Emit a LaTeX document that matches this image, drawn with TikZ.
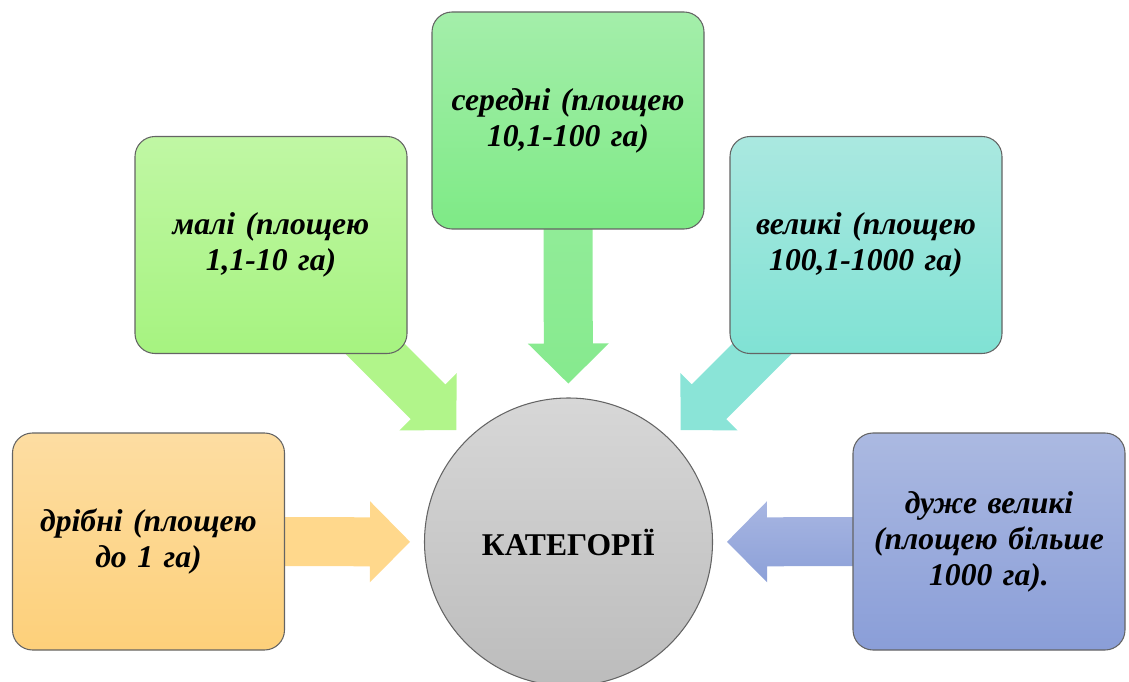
\documentclass[tikz,border=0pt]{standalone}
\usepackage{fontspec}
\setmainfont{Liberation Serif}
\usepackage{xcolor}
\usepackage{tikz}
\usetikzlibrary{calc,backgrounds}
\definecolor{orangetop}{RGB}{253,221,162}
\definecolor{orangebot}{RGB}{253,208,122}
\definecolor{limetop}{RGB}{192,247,164}
\definecolor{limebot}{RGB}{166,243,128}
\definecolor{greentop}{RGB}{164,238,170}
\definecolor{greenbot}{RGB}{126,234,134}
\definecolor{tealtop}{RGB}{170,232,224}
\definecolor{tealbot}{RGB}{128,226,212}
\definecolor{bluetop}{RGB}{171,185,225}
\definecolor{bluebot}{RGB}{138,158,216}
\definecolor{greytop}{RGB}{215,215,215}
\definecolor{greybot}{RGB}{188,188,188}
\definecolor{edgegrey}{RGB}{100,100,100}
% block arrow from node #1 towards node #2, look #3
\newcommand{\blockarrow}[3]{%
  \coordinate (ba-t) at ($(#2.center)!3.17cm!(#1.center)$);
  \coordinate (ba-h) at ($(ba-t)!0.8cm!(#1.center)$);
  \coordinate (ba-l) at ($(ba-h)!0.49cm!90:(ba-t)$);
  \coordinate (ba-r) at ($(ba-h)!0.49cm!-90:(ba-t)$);
  \path[#3] ($(#1.center)+(ba-l)-(ba-h)$) -- (ba-l)
    -- ($(ba-h)!0.81cm!90:(ba-t)$) -- (ba-t) -- ($(ba-h)!0.81cm!-90:(ba-t)$)
    -- (ba-r) -- ($(#1.center)+(ba-r)-(ba-h)$) -- cycle;
}

\begin{document}
\begin{tikzpicture}[
  cat/.style={draw=edgegrey, line width=0.6pt, rounded corners=0.4cm, minimum width=5.44cm, minimum height=4.34cm,
    text width=4.9cm, align=center, font=\fontsize{18}{20.5}\selectfont\bfseries\itshape},
  hub/.style={circle, draw=edgegrey, line width=0.6pt, minimum size=5.76cm, top color=greytop, bottom color=greybot,
    font=\fontsize{18}{21}\selectfont\bfseries}
]
\useasboundingbox (0,0) rectangle (22.58,13.62);
\node[hub] (hub) at (11.37,2.78) {КАТЕГОРІЇ};
\node[cat, top color=orangetop, bottom color=orangebot] (tiny) at (2.97,2.79) {дрібні (площею\\до 1 га)};
\node[cat, top color=limetop, bottom color=limebot] (small) at (5.42,8.72) {малі (площею\\1,1-10 га)};
\node[cat, top color=greentop, bottom color=greenbot] (medium) at (11.36,11.21) {середні (площею\\10,1-100 га)};
\node[cat, top color=tealtop, bottom color=tealbot] (large) at (17.32,8.72) {великі (площею\\100,1-1000 га)};
\node[cat, top color=bluetop, bottom color=bluebot] (huge) at (19.78,2.79) {дуже великі\\(площею більше\\1000 га).};
\begin{scope}[on background layer]
  \blockarrow{tiny}{hub}{fill={rgb,255:red,255;green,216;blue,140}}
  \blockarrow{small}{hub}{fill={rgb,255:red,177;green,245;blue,138}}
  \blockarrow{medium}{hub}{top color={rgb,255:red,152;green,237;blue,158}, bottom color={rgb,255:red,134;green,234;blue,142}}
  \blockarrow{large}{hub}{fill={rgb,255:red,138;green,228;blue,215}}
  \blockarrow{huge}{hub}{top color={rgb,255:red,168;green,182;blue,226}, bottom color={rgb,255:red,140;green,160;blue,216}}
\end{scope}
\end{tikzpicture}
\end{document}
